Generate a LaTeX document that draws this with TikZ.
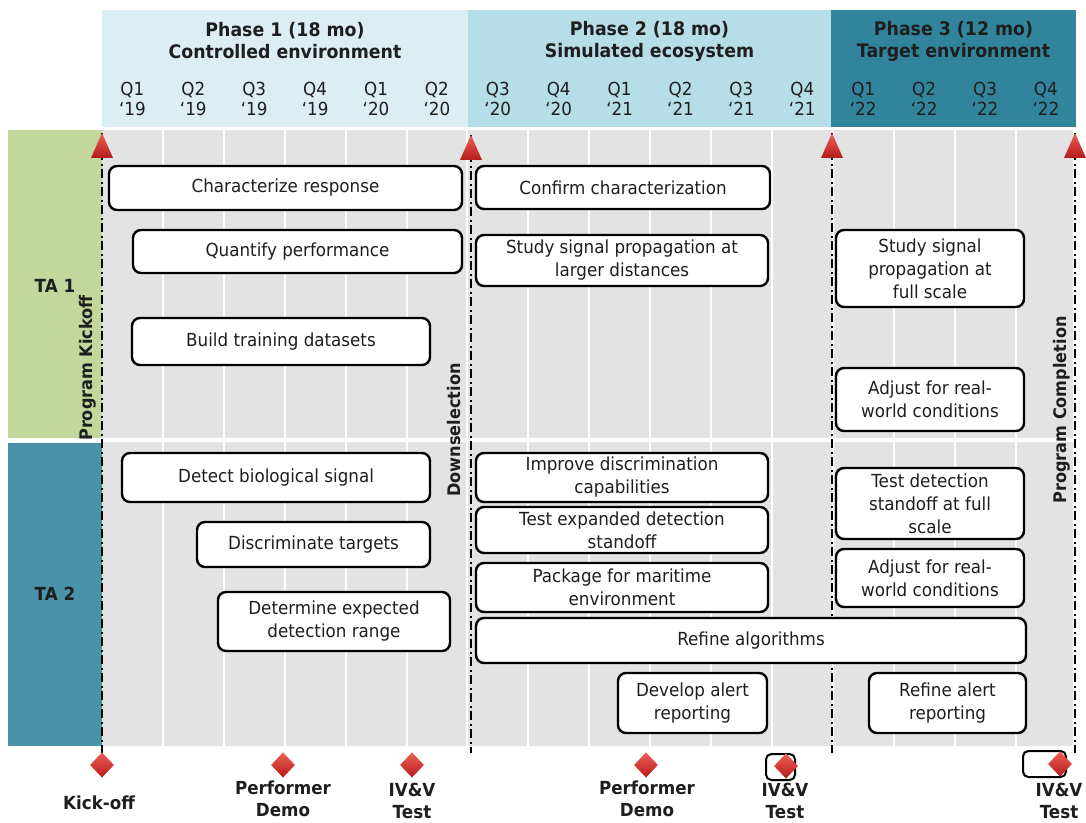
\documentclass[tikz,border=0pt]{standalone}
\usepackage{fontspec}
\setmainfont{DejaVu Sans}[FakeStretch=0.93]
\usetikzlibrary{shapes.geometric,calc}
\definecolor{hdrA}{RGB}{219,238,244}
\definecolor{hdrB}{RGB}{183,221,232}
\definecolor{hdrC}{RGB}{49,132,155}
\definecolor{gridgray}{RGB}{227,227,227}
\definecolor{tagreen}{RGB}{195,214,155}
\definecolor{tateal}{RGB}{74,146,167}
\definecolor{redmark}{RGB}{205,50,45}
\definecolor{redlight}{RGB}{238,95,85}
\definecolor{reddark}{RGB}{180,28,28}
\definecolor{txt}{RGB}{30,30,30}
\tikzset{
  task/.style={draw=black, line width=1.8pt, rounded corners=6pt, fill=white,
    align=center, inner sep=1pt, text=txt,
    font=\fontsize{13.5pt}{17.25pt}\selectfont},
  phline/.style={line width=1.7pt, dash pattern=on 7pt off 2.5pt on 1.5pt off 2.5pt},
  redtri/.style={top color=redlight, bottom color=reddark},
  mile/.style={diamond, top color=redlight, bottom color=reddark, draw=none,
    minimum width=18pt, minimum height=19pt, inner sep=0pt},
  milelab/.style={font=\fontsize{13.5pt}{16.5pt}\selectfont\bfseries, align=center, text=txt},
  phasetitle/.style={font=\fontsize{14pt}{16.5pt}\selectfont\bfseries, align=center, text=txt},
  qlab/.style={font=\fontsize{13.5pt}{15pt}\selectfont, align=center, text=txt},
  vlab/.style={rotate=90, font=\fontsize{13pt}{15pt}\selectfont\bfseries, text=txt},
  talab/.style={font=\fontsize{13.5pt}{15pt}\selectfont\bfseries, text=txt},
  stub/.style={draw=black, line width=1.5pt, rounded corners=4pt, fill=white, inner sep=0pt}
}
\newcommand\tbox[6]{\node[task, minimum width={(#4-#2)*0.75pt}, minimum height={(#5-#3)*0.75pt}] (#1) at ({(#2+#4)/2},{(#3+#5)/2}) {#6};}
\begin{document}
\begin{tikzpicture}[x=0.75pt,y=-0.75pt]
\useasboundingbox (0,0) rectangle (1086,823);
% header
\fill[hdrA] (102,10) rectangle (468,127);
\fill[hdrB] (468,10) rectangle (831,127);
\fill[hdrC] (831,10) rectangle (1076,127);
\node[phasetitle] (p1) at (285,41) {Phase 1 (18 mo)\\Controlled environment};
\node[phasetitle] (p2) at (649.5,41) {Phase 2 (18 mo)\\Simulated ecosystem};
\node[phasetitle] (p3) at (953.5,41) {Phase 3 (12 mo)\\Target environment};
\foreach \q/\yr [count=\k from 0] in {Q1/19,Q2/19,Q3/19,Q4/19,Q1/20,Q2/20,Q3/20,Q4/20,Q1/21,Q2/21,Q3/21,Q4/21,Q1/22,Q2/22,Q3/22,Q4/22}
  \node[qlab] (q\k) at ({132.4+\k*60.9},99) {\q\\‘\yr};
% grid
\fill[gridgray] (102,130) rectangle (1073,746);
\foreach \k in {1,...,15}
  \draw[white, line width=1.5pt] ({102+\k*60.9},130) -- ({102+\k*60.9},746);
\draw[white, line width=2.5pt] (102,440) -- (1073,440);
% row labels
\fill[tagreen] (8,130) rectangle (102,438);
\fill[tateal] (8,443) rectangle (102,746);
\node[talab] (ta1) at (55,286) {TA 1};
\node[talab] (ta2) at (55,594) {TA 2};
% phase lines
\coordinate (kT) at (102,133); \coordinate (kB) at (102,753);
\coordinate (dT) at (471,135); \coordinate (dB) at (471,753);
\coordinate (cT) at (832,133); \coordinate (cB) at (832,753);
\coordinate (eT) at (1075,133); \coordinate (eB) at (1075,753);
\draw[phline] (kT) -- (kB);
\draw[phline] (dT) -- (dB);
\draw[phline] (cT) -- (cB);
\draw[phline] (eT) -- (eB);
\foreach \c in {kT,dT,cT,eT}
  \shade[redtri] (\c) -- ++(11,25) -- ++(-22,0) -- cycle;
\node[vlab] (vk) at (88,368) {Program Kickoff};
\node[vlab] (vd) at (454,430) {Downselection};
\node[vlab] (ve) at (1062,410) {Program Completion};
% tasks TA1
\tbox{cr}{109}{166}{462}{210}{Characterize response}
\tbox{qp}{133}{230}{462}{273}{Quantify performance}
\tbox{bt}{132}{318}{430}{365}{Build training datasets}
\tbox{cc}{476}{166}{770}{209}{Confirm characterization}
\tbox{sl}{476}{235}{768}{286}{Study signal propagation at\\larger distances}
\tbox{sf}{836}{230}{1024}{307}{Study signal\\propagation at\\full scale}
\tbox{ar1}{836}{368}{1024}{431}{Adjust for real-\\world conditions}
% tasks TA2
\tbox{db}{122}{453}{430}{502}{Detect biological signal}
\tbox{dt}{197}{522}{430}{567}{Discriminate targets}
\tbox{de}{218}{592}{450}{651}{Determine expected\\detection range}
\tbox{id}{476}{453}{768}{502}{Improve discrimination\\capabilities}
\tbox{te}{476}{507}{768}{553}{Test expanded detection\\standoff}
\tbox{pm}{476}{563}{768}{612}{Package for maritime\\environment}
\tbox{ra}{476}{618}{1026}{663}{Refine algorithms}
\tbox{da}{618}{673}{767}{733}{Develop alert\\reporting}
\tbox{td}{836}{468}{1024}{539}{Test detection\\standoff at full\\scale}
\tbox{ar2}{836}{549}{1024}{607}{Adjust for real-\\world conditions}
\tbox{rr}{869}{673}{1026}{733}{Refine alert\\reporting}
% milestones
\node[stub, minimum width={29*0.75pt}, minimum height={26*0.75pt}] (s1) at (780.5,767) {};
\node[stub, minimum width={43*0.75pt}, minimum height={26*0.75pt}] (s2) at (1044.5,764) {};
\node[mile] (m1) at (102,765) {};
\node[mile] (m2) at (283,765) {};
\node[mile] (m3) at (412,765) {};
\node[mile] (m4) at (646,765) {};
\node[mile] (m5) at (786,766) {};
\node[mile] (m6) at (1060,764) {};
\node[milelab] (l1) at (99,803) {Kick-off};
\node[milelab] (l2) at (283,799) {Performer\\Demo};
\node[milelab] (l3) at (412,801) {IV\&V\\Test};
\node[milelab] (l4) at (647,799) {Performer\\Demo};
\node[milelab] (l5) at (785,801) {IV\&V\\Test};
\node[milelab] (l6) at (1059,801) {IV\&V\\Test};
\end{tikzpicture}
\end{document}
